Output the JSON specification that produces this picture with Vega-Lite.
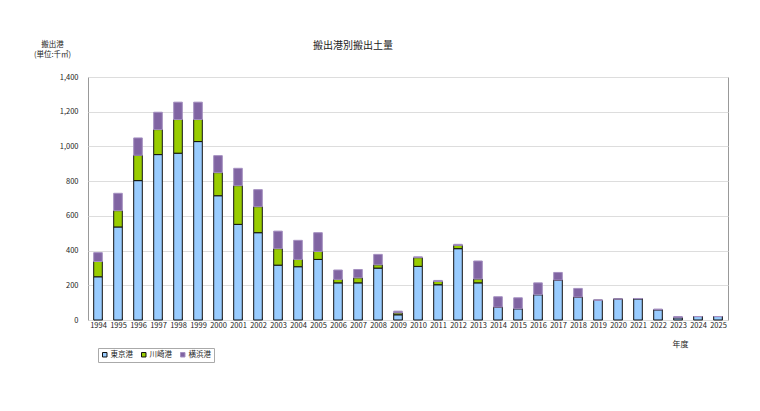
{
  "$schema": "https://vega.github.io/schema/vega-lite/v6.json",
  "width": 640,
  "height": 243,
  "autosize": {"type": "none"},
  "padding": {"left": 88, "top": 77, "right": 32, "bottom": 91},
  "background": "white",
  "config": {
    "font": "Noto Sans CJK JP",
    "view": {"stroke": "#999999", "strokeWidth": 1}
  },
  "title": {
    "text": "搬出港別搬出土量",
    "fontSize": 10,
    "fontWeight": "normal",
    "color": "#222222",
    "anchor": "middle",
    "dx": -55,
    "offset": -11
  },
  "data": {
    "values": [
      {"year": "1994", "port": "東京港", "value": 249}, {"year": "1994", "port": "川崎港", "value": 88}, {"year": "1994", "port": "横浜港", "value": 51},
      {"year": "1995", "port": "東京港", "value": 536}, {"year": "1995", "port": "川崎港", "value": 94}, {"year": "1995", "port": "横浜港", "value": 100},
      {"year": "1996", "port": "東京港", "value": 803}, {"year": "1996", "port": "川崎港", "value": 146}, {"year": "1996", "port": "横浜港", "value": 100},
      {"year": "1997", "port": "東京港", "value": 953}, {"year": "1997", "port": "川崎港", "value": 144}, {"year": "1997", "port": "横浜港", "value": 100},
      {"year": "1998", "port": "東京港", "value": 961}, {"year": "1998", "port": "川崎港", "value": 194}, {"year": "1998", "port": "横浜港", "value": 100},
      {"year": "1999", "port": "東京港", "value": 1028}, {"year": "1999", "port": "川崎港", "value": 127}, {"year": "1999", "port": "横浜港", "value": 100},
      {"year": "2000", "port": "東京港", "value": 716}, {"year": "2000", "port": "川崎港", "value": 133}, {"year": "2000", "port": "横浜港", "value": 98},
      {"year": "2001", "port": "東京港", "value": 551}, {"year": "2001", "port": "川崎港", "value": 223}, {"year": "2001", "port": "横浜港", "value": 100},
      {"year": "2002", "port": "東京港", "value": 503}, {"year": "2002", "port": "川崎港", "value": 150}, {"year": "2002", "port": "横浜港", "value": 98},
      {"year": "2003", "port": "東京港", "value": 316}, {"year": "2003", "port": "川崎港", "value": 95}, {"year": "2003", "port": "横浜港", "value": 101},
      {"year": "2004", "port": "東京港", "value": 307}, {"year": "2004", "port": "川崎港", "value": 42}, {"year": "2004", "port": "横浜港", "value": 110},
      {"year": "2005", "port": "東京港", "value": 349}, {"year": "2005", "port": "川崎港", "value": 46}, {"year": "2005", "port": "横浜港", "value": 108},
      {"year": "2006", "port": "東京港", "value": 214}, {"year": "2006", "port": "川崎港", "value": 20}, {"year": "2006", "port": "横浜港", "value": 54},
      {"year": "2007", "port": "東京港", "value": 214}, {"year": "2007", "port": "川崎港", "value": 29}, {"year": "2007", "port": "横浜港", "value": 48},
      {"year": "2008", "port": "東京港", "value": 299}, {"year": "2008", "port": "川崎港", "value": 19}, {"year": "2008", "port": "横浜港", "value": 60},
      {"year": "2009", "port": "東京港", "value": 30}, {"year": "2009", "port": "川崎港", "value": 11}, {"year": "2009", "port": "横浜港", "value": 10},
      {"year": "2010", "port": "東京港", "value": 309}, {"year": "2010", "port": "川崎港", "value": 50}, {"year": "2010", "port": "横浜港", "value": 5},
      {"year": "2011", "port": "東京港", "value": 203}, {"year": "2011", "port": "川崎港", "value": 19}, {"year": "2011", "port": "横浜港", "value": 6},
      {"year": "2012", "port": "東京港", "value": 411}, {"year": "2012", "port": "川崎港", "value": 19}, {"year": "2012", "port": "横浜港", "value": 6},
      {"year": "2013", "port": "東京港", "value": 214}, {"year": "2013", "port": "川崎港", "value": 22}, {"year": "2013", "port": "横浜港", "value": 104},
      {"year": "2014", "port": "東京港", "value": 74}, {"year": "2014", "port": "川崎港", "value": 0}, {"year": "2014", "port": "横浜港", "value": 60},
      {"year": "2015", "port": "東京港", "value": 65}, {"year": "2015", "port": "川崎港", "value": 0}, {"year": "2015", "port": "横浜港", "value": 63},
      {"year": "2016", "port": "東京港", "value": 146}, {"year": "2016", "port": "川崎港", "value": 0}, {"year": "2016", "port": "横浜港", "value": 68},
      {"year": "2017", "port": "東京港", "value": 230}, {"year": "2017", "port": "川崎港", "value": 0}, {"year": "2017", "port": "横浜港", "value": 44},
      {"year": "2018", "port": "東京港", "value": 132}, {"year": "2018", "port": "川崎港", "value": 0}, {"year": "2018", "port": "横浜港", "value": 50},
      {"year": "2019", "port": "東京港", "value": 113}, {"year": "2019", "port": "川崎港", "value": 0}, {"year": "2019", "port": "横浜港", "value": 3},
      {"year": "2020", "port": "東京港", "value": 120}, {"year": "2020", "port": "川崎港", "value": 0}, {"year": "2020", "port": "横浜港", "value": 2},
      {"year": "2021", "port": "東京港", "value": 122}, {"year": "2021", "port": "川崎港", "value": 0}, {"year": "2021", "port": "横浜港", "value": 2},
      {"year": "2022", "port": "東京港", "value": 59}, {"year": "2022", "port": "川崎港", "value": 0}, {"year": "2022", "port": "横浜港", "value": 4},
      {"year": "2023", "port": "東京港", "value": 13}, {"year": "2023", "port": "川崎港", "value": 0}, {"year": "2023", "port": "横浜港", "value": 7},
      {"year": "2024", "port": "東京港", "value": 20}, {"year": "2024", "port": "川崎港", "value": 0}, {"year": "2024", "port": "横浜港", "value": 0},
      {"year": "2025", "port": "東京港", "value": 20}, {"year": "2025", "port": "川崎港", "value": 0}, {"year": "2025", "port": "横浜港", "value": 0}
    ]
  },
  "transform": [
    {"calculate": "indexof(['東京港','川崎港','横浜港'], datum.port)", "as": "ord"}
  ],
  "mark": {"type": "bar", "strokeWidth": 1},
  "encoding": {
    "x": {
      "field": "year",
      "type": "ordinal",
      "scale": {"paddingInner": 0.57, "paddingOuter": 0.285},
      "axis": {
        "title": "年度",
        "titleFont": "Noto Sans CJK JP",
        "titleFontSize": 8,
        "titleFontWeight": "normal",
        "titleColor": "#222222",
        "titleX": 592,
        "titleY": 24,
        "titleAlign": "center",
        "titleBaseline": "middle",
        "labelAngle": 0,
        "labelFontSize": 7.5,
        "labelColor": "#222222",
        "labelPadding": 4,
        "domain": false,
        "ticks": true,
        "tickBand": "extent",
        "tickSize": -3,
        "tickColor": "#999999",
        "grid": false
      }
    },
    "y": {
      "field": "value",
      "type": "quantitative",
      "stack": "zero",
      "scale": {"domain": [0, 1400]},
      "axis": {
        "values": [0, 200, 400, 600, 800, 1000, 1200, 1400],
        "format": ",.0f",
        "title": ["搬出港", "(単位:千㎥)"],
        "titleAngle": 0,
        "titleFontSize": 7.5,
        "titleFontWeight": "normal",
        "titleColor": "#222222",
        "titleAlign": "center",
        "titleBaseline": "middle",
        "titleX": -36,
        "titleY": -33,
        "titleLineHeight": 10,
        "labelFontSize": 7.5,
        "labelColor": "#222222",
        "labelPadding": 10,
        "ticks": false,
        "domain": false,
        "gridColor": "#dddddd",
        "gridWidth": 1
      }
    },
    "color": {
      "field": "port",
      "type": "nominal",
      "sort": ["東京港", "川崎港", "横浜港"],
      "scale": {"domain": ["東京港", "川崎港", "横浜港"], "range": ["#99ccff", "#99cc00", "#8064a2"]},
      "legend": {
        "title": null,
        "orient": "none",
        "direction": "horizontal",
        "legendX": 10,
        "legendY": 271,
        "symbolType": "square",
        "symbolSize": 20,
        "symbolStrokeWidth": 1,
        "labelFontSize": 7.5,
        "labelColor": "#222222",
        "labelOffset": 2,
        "columnPadding": 6,
        "strokeColor": "#aaaaaa",
        "padding": 3
      }
    },
    "stroke": {
      "field": "port",
      "type": "nominal",
      "scale": {"domain": ["東京港", "川崎港", "横浜港"], "range": ["#111111", "#111111", "#a48fc0"]},
      "legend": null
    },
    "order": {"field": "ord", "type": "quantitative"}
  }
}
